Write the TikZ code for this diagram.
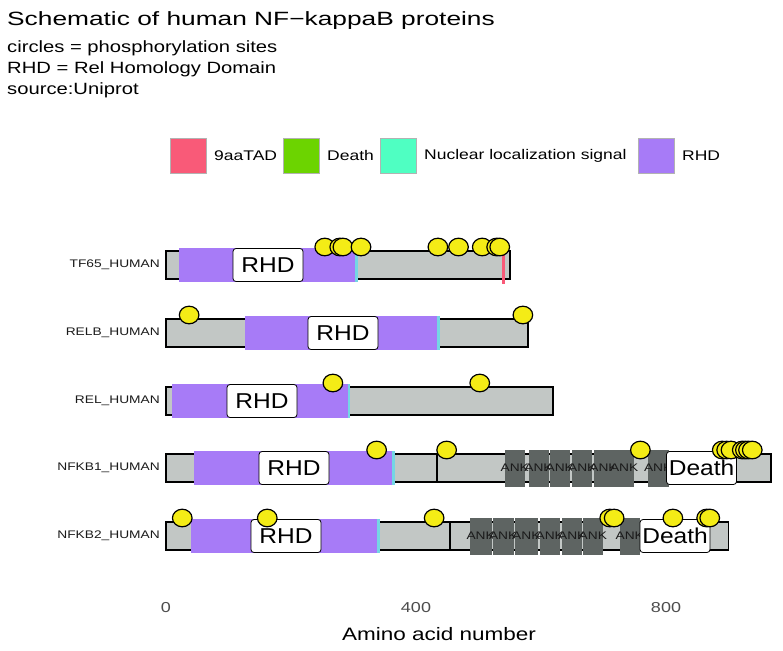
\documentclass[tikz,border=0pt]{standalone}
\usepackage{fontspec}
\setmainfont[FakeStretch=1.25]{Liberation Sans}
\newfontfamily\titlefont[FakeStretch=1.37]{Liberation Sans}
\newfontfamily\subfont[FakeStretch=1.24]{Liberation Sans}
\newfontfamily\labfont[FakeStretch=1.14]{Liberation Sans}
\definecolor{tadc}{HTML}{F95A78}
\definecolor{deathc}{HTML}{6CD400}
\definecolor{nlsc}{HTML}{4FFFC2}
\definecolor{rhdc}{HTML}{A77BF7}
\definecolor{nlsline}{HTML}{74D6E4}
\definecolor{barc}{HTML}{C2C7C5}
\definecolor{ankc}{HTML}{5E6462}
\definecolor{phosc}{HTML}{F4EC16}
\definecolor{axisc}{HTML}{4D4D4D}
\definecolor{txtc}{HTML}{1A1A1A}
\newcommand\fs[1]{\fontsize{#1}{#1}\selectfont}
% chain: row y, start aa, end aa
\newcommand\protchain[3]{\draw[chainbar] ({166+0.625*(#2)},{#1-14}) rectangle ({166+0.625*(#3)},{#1+14});}
% domain: row y, start, end, colour
\newcommand\protdom[4]{\fill[#4] ({166+0.625*(#2)},{#1-17}) rectangle ({166+0.625*(#3)},{#1+17});}
% NLS line: row y, x px
\newcommand\protnls[2]{\fill[nlsline] ({#2-1.2},{#1-17}) rectangle ({#2+1.2},{#1+17});}
% ANK repeat: row y, start, end
\newcommand\protank[3]{\fill[ankc] ({166+0.625*(#2)},{#1-18.5}) rectangle ({166+0.625*(#3)},{#1+18.5});
  \node[anktext] at ({166+0.625*((#2+#3)/2)},{#1}) {ANK};}
% phosphosite: row y, aa
\newcommand\protphos[2]{\draw[phosdot] ({166+0.625*(#2)},{#1-18}) ellipse [x radius=9.8, y radius=8.8];}
\tikzset{
  chainbar/.style={fill=barc, draw=black, line width=1.9pt},
  anktext/.style={font=\fs{11}, text=txtc, inner sep=0pt},
  domlabel/.style={fill=white, draw=black, line width=0.8pt, rounded corners=3pt,
     font=\labfont\fs{21.5}, text=black, inner xsep=2pt, inner ysep=0pt, minimum width=70pt,
     minimum height=33pt},
  phosdot/.style={fill=phosc, draw=black, line width=1.2pt},
  rowlabel/.style={font=\fs{11}, text=txtc, anchor=east, inner sep=0pt},
  legkey/.style={minimum width=36pt, minimum height=35pt, inner sep=0pt, draw=gray!60, line width=0.8pt},
  legtext/.style={font=\fs{14}, text=black, anchor=west, inner sep=0pt},
  ticklab/.style={font=\fs{14.4}, text=axisc, inner sep=0pt},
}
\begin{document}
\begin{tikzpicture}[x=1pt,y=-1pt]
\useasboundingbox (0,0) rectangle (783,650);
\fill[white] (0,0) rectangle (783,650);
% titles
\node[anchor=base west, inner sep=0pt, font=\titlefont\fs{19.2}] (title) at (7,26) {Schematic of human NF−kappaB proteins};
\node[anchor=base west, inner sep=0pt, font=\subfont\fs{16.3}] (sub1) at (7,53) {circles = phosphorylation sites};
\node[anchor=base west, inner sep=0pt, font=\subfont\fs{16.3}] (sub2) at (7,74) {RHD = Rel Homology Domain};
\node[anchor=base west, inner sep=0pt, font=\subfont\fs{16.3}] (sub3) at (7,95) {source:Uniprot};
% legend
\node[legkey, fill=tadc] (k1) at (188,155.5) {};
\node[legtext] (l1) at (214,155.5) {9aaTAD};
\node[legkey, fill=deathc] (k2) at (301.5,155.5) {};
\node[legtext] (l2) at (327,155.5) {Death};
\node[legkey, fill=nlsc] (k3) at (398,155.5) {};
\node[legtext] (l3) at (424,155.5) {Nuclear localization signal};
\node[legkey, fill=rhdc] (k4) at (656,155.5) {};
\node[legtext] (l4) at (682,155.5) {RHD};
% row labels
\node[rowlabel] (r1) at (160,265) {TF65\_HUMAN};
\node[rowlabel] (r2) at (160,333) {RELB\_HUMAN};
\node[rowlabel] (r3) at (160,401) {REL\_HUMAN};
\node[rowlabel] (r4) at (160,468) {NFKB1\_HUMAN};
\node[rowlabel] (r5) at (160,536) {NFKB2\_HUMAN};
% chains
\protchain{265}{0}{551}
\protchain{333}{0}{579}
\protchain{401}{0}{619}
\protchain{468}{0}{968}
\protchain{468}{0}{433}
\protchain{536}{0}{900}
\protchain{536}{0}{454}
% RHD domains
\protdom{265}{21}{306}{rhdc}
\protdom{333}{126}{437}{rhdc}
\protdom{401}{10}{294}{rhdc}
\protdom{468}{45}{366}{rhdc}
\protdom{536}{40}{340}{rhdc}
% NLS
\protnls{265}{356.5}
\protnls{333}{438.5}
\protnls{401}{349}
\protnls{468}{393.5}
\protnls{536}{378.5}
% 9aaTAD
\fill[tadc] (502,248) rectangle (505,284);
% ANK repeats NFKB1
\protank{468}{542}{574}
\protank{468}{580}{612}
\protank{468}{614}{646}
\protank{468}{650}{682}
\protank{468}{684}{716}
\protank{468}{717}{749}
\protank{468}{771}{804}
% ANK repeats NFKB2
\protank{536}{486}{521}
\protank{536}{523}{556}
\protank{536}{558}{595}
\protank{536}{598}{630}
\protank{536}{634}{666}
\protank{536}{667}{699}
\protank{536}{726}{758}
% domain labels
\node[domlabel] (rhd1) at (268,265) {RHD};
\node[domlabel] (rhd2) at (343,333) {RHD};
\node[domlabel] (rhd3) at (262,401) {RHD};
\node[domlabel] (rhd4) at (294,468) {RHD};
\node[domlabel] (rhd5) at (286,536) {RHD};
\node[domlabel] (death1) at (701.5,468) {Death};
\node[domlabel] (death2) at (675,536) {Death};
% phosphosites
\foreach \a in {254,278,283,312,435,468,506,529,534} {\protphos{265}{\a}}
\foreach \a in {37,571} {\protphos{333}{\a}}
\foreach \a in {267,502} {\protphos{401}{\a}}
\foreach \a in {337,449,759,890,897,904,922,927,932,938} {\protphos{468}{\a}}
\foreach \a in {26,162,429,710,717,811,865,870} {\protphos{536}{\a}}
% axis
\node[ticklab] (t0) at (166,608) {0};
\node[ticklab] (t400) at (416,608) {400};
\node[ticklab] (t800) at (666,608) {800};
\node[inner sep=0pt, font=\fs{18}] (xtitle) at (439,634) {Amino acid number};
\end{tikzpicture}
\end{document}
